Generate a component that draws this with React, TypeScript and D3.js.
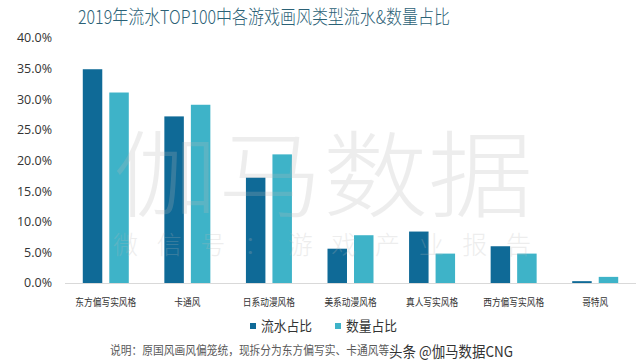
import React from "react";
import * as d3 from "d3";

const categories = ["东方偏写实风格", "卡通风", "日系动漫风格", "美系动漫风格", "真人写实风格", "西方偏写实风格", "哥特风"];
const seriesNames = ["流水占比", "数量占比"];
const revenueShare = [34.9, 27.2, 17.2, 5.6, 8.4, 6.0, 0.3];
const countShare = [31.1, 29.1, 21.0, 7.8, 4.8, 4.8, 1.0];
const yTicks = [0, 5, 10, 15, 20, 25, 30, 35, 40];
const title = "2019年流水TOP100中各游戏画风类型流水&数量占比";
const note = "说明：原国风画风偏笼统，现拆分为东方偏写实、卡通风等。";

const W = 640;
const H = 362;
const colors = ["#0f6a97", "#3eb3c8"];
const font = "'Noto Sans CJK SC', 'Noto Sans', sans-serif";

export default function App() {
  const y = d3.scaleLinear().domain([0, 40]).range([283, 38]);
  const x0 = d3.scaleBand<string>().domain(categories).range([65, 636]).paddingInner(0).paddingOuter(0);
  const bw = x0.bandwidth();
  const x1 = d3.scaleBand<string>().domain(seriesNames).range([bw / 2 - 23, bw / 2 + 23]).paddingInner(0.265);
  const series = [revenueShare, countShare];

  return (
    <svg width={W} height={H} style={{ position: "absolute", left: 0, top: 0, background: "#fff" }} fontFamily={font}>
      <rect x={0} y={0} width={W} height={H} fill="#fff" />
      <text x={78} y={24} fontSize={19} fontWeight={300} fill="#2b6176" textLength={372} lengthAdjust="spacingAndGlyphs">{title}</text>
      {yTicks.map((t) => (
        <text key={t} x={52} y={y(t)} dy="0.35em" textAnchor="end" fontSize={12.5} fill="#333" fontFamily="'Open Sans', 'Noto Sans', sans-serif">
          {d3.format(".1f")(t) + "%"}
        </text>
      ))}
      <line x1={65} x2={636} y1={y(0) + 0.5} y2={y(0) + 0.5} stroke="#d9d9d9" strokeWidth={1} />
      {categories.map((c, i) => (
        <g key={c} transform={`translate(${x0(c)},0)`}>
          {series.map((s, j) => (
            <rect key={j} x={x1(seriesNames[j])} y={y(s[i])} width={x1.bandwidth()} height={y(0) - y(s[i])} fill={colors[j]} />
          ))}
          <text x={bw / 2} y={306} textAnchor="middle" fontSize={10.5} fill="#333" textLength={c.length * 8.7} lengthAdjust="spacingAndGlyphs">{c}</text>
        </g>
      ))}
      {/* watermark */}
      <g fill="#b8b8b8" opacity={0.24} pointerEvents="none">
        <text x={113} y={210} fontSize={94} fontWeight={300} textLength={420} lengthAdjust="spacingAndGlyphs">伽马数据</text>
        <text x={113} y={254} fontSize={25} fontWeight={300} textLength={418} lengthAdjust="spacing">微信号：游戏产业报告</text>
      </g>
      {seriesNames.map((s, j) => (
        <g key={s} transform={`translate(${250 + j * 85},0)`}>
          <rect x={0} y={323} width={6} height={6} fill={colors[j]} />
          <text x={11} y={331} fontSize={14} fill="#333" textLength={51} lengthAdjust="spacingAndGlyphs">{s}</text>
        </g>
      ))}
      <text x={110} y={355} fontSize={12} fill="#595959" textLength={290} lengthAdjust="spacingAndGlyphs">{note}</text>
      <text x={389} y={357} fontSize={15} fill="#333" stroke="#fff" strokeWidth={2.5} paintOrder="stroke" textLength={124} lengthAdjust="spacingAndGlyphs">头条 @伽马数据CNG</text>
    </svg>
  );
}
